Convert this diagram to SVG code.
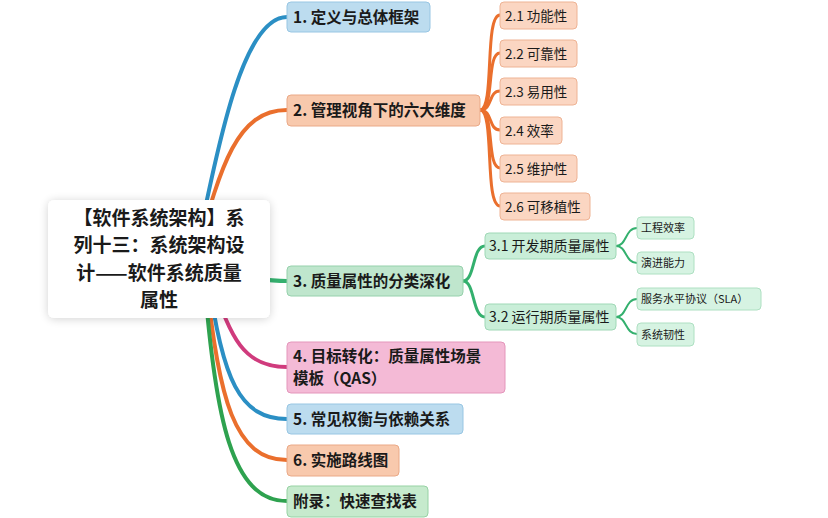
<svg xmlns="http://www.w3.org/2000/svg" width="828" height="518" viewBox="0 0 828 518">
<defs>
<filter id="sh" x="-20%" y="-20%" width="140%" height="140%">
<feGaussianBlur in="SourceAlpha" stdDeviation="5"/>
<feOffset dx="0" dy="1"/>
<feComponentTransfer><feFuncA type="linear" slope="0.18"/></feComponentTransfer>
<feMerge><feMergeNode/><feMergeNode in="SourceGraphic"/></feMerge>
</filter>
</defs>
<style>
text{font-family:"Noto Sans CJK SC","Noto Sans",sans-serif;fill:#1a1a1a}
.root{font-size:19px;font-weight:bold;text-anchor:middle}
.l1{font-size:15.5px;font-weight:bold}
.l2{font-size:13.5px}
.l2g{font-size:14px}
.l3{font-size:11px}
.c{fill:none;stroke-linecap:round}
.blue{stroke:#2b8fc4}
.org{stroke:#ea6f2d}
.grn{stroke:#34b06e}
.grn2{stroke:#2ea24f}
.pink{stroke:#d03b7d}
.w4{stroke-width:4}
.w3{stroke-width:3}
.w2{stroke-width:2}
.nb{fill:#bcdcef;stroke:#98c6e3}
.no{fill:#f8c9ad;stroke:#eaa987}
.no2{fill:#fbd6c2;stroke:#eeb394}
.ng{fill:#bfe6cd;stroke:#96d1ac}
.ng2{fill:#c9eed8;stroke:#9fd8b6}
.ng3{fill:#d6f3e2;stroke:#aee0c2}
.np{fill:#f4bad6;stroke:#e496bb}
.ng7{fill:#c6eacd;stroke:#97d2a4}
</style>
<rect width="828" height="518" fill="#ffffff"/>
<g id="connectors">
<path class="c blue w4" d="M 195 259 C 220 130, 245 17, 287 17"/>
<path class="c org w4" d="M 195 259 C 220 170, 235 110, 287 110"/>
<path class="c grn w4" d="M 200 272 C 240 276, 260 281, 287 281"/>
<path class="c pink w4" d="M 210 275 C 230 340, 245 367, 287 367"/>
<path class="c blue w4" d="M 208 275 C 222 380, 240 419, 287 419"/>
<path class="c org w4" d="M 206 275 C 218 400, 235 460, 287 460"/>
<path class="c grn2 w4" d="M 204 275 C 215 420, 232 501, 287 501"/>
<path class="c org w3" d="M 480 110 C 495 110, 484 15, 500 15"/>
<path class="c org w3" d="M 480 110 C 495 110, 486 53, 500 53"/>
<path class="c org w3" d="M 480 110 C 493 110, 488 91, 500 91"/>
<path class="c org w3" d="M 480 110 C 493 110, 488 130, 500 130"/>
<path class="c org w3" d="M 480 110 C 495 110, 486 168, 500 168"/>
<path class="c org w3" d="M 480 110 C 495 110, 484 206, 500 206"/>
<path class="c grn w3" d="M 463 281 C 475 281, 472 246, 485 246"/>
<path class="c grn w3" d="M 463 281 C 475 281, 472 317, 485 317"/>
<path class="c grn w2" d="M 616 246 C 627 246, 625 228, 637 228"/>
<path class="c grn w2" d="M 616 246 C 627 246, 625 263, 637 263"/>
<path class="c grn w2" d="M 616 317 C 627 317, 625 299, 637 299"/>
<path class="c grn w2" d="M 616 317 C 627 317, 625 334, 637 334"/>
</g>
<g id="root">
<rect x="48" y="200" width="222" height="118" rx="6" fill="#ffffff" filter="url(#sh)"/>
<text class="root" x="159" y="224.5">【软件系统架构】系</text>
<text class="root" x="159" y="252">列十三：系统架构设</text>
<text class="root" x="159" y="279.5">计——软件系统质量</text>
<text class="root" x="159" y="307">属性</text>
</g>
<g id="n1"><rect class="nb" x="287" y="2" width="143" height="30" rx="4"/><text class="l1" x="293" y="22.5">1. 定义与总体框架</text></g>
<g id="n2"><rect class="no" x="287" y="95" width="193" height="31" rx="4"/><text class="l1" x="293" y="116">2. 管理视角下的六大维度</text></g>
<g id="n3"><rect class="ng" x="287" y="266" width="176" height="30" rx="4"/><text class="l1" x="293" y="286.5">3. 质量属性的分类深化</text></g>
<g id="n4"><rect class="np" x="287" y="342" width="218" height="51" rx="4"/><text class="l1" x="293" y="362">4. 目标转化：质量属性场景</text><text class="l1" x="293" y="384">模板（QAS）</text></g>
<g id="n5"><rect class="nb" x="287" y="404" width="176" height="30" rx="4"/><text class="l1" x="293" y="424.5">5. 常见权衡与依赖关系</text></g>
<g id="n6"><rect class="no" x="287" y="445" width="112" height="31" rx="4"/><text class="l1" x="293" y="466">6. 实施路线图</text></g>
<g id="n7"><rect class="ng7" x="287" y="486" width="141" height="31" rx="4"/><text class="l1" x="293" y="507">附录：快速查找表</text></g>
<g id="n2-1"><rect class="no2" x="500" y="2" width="77" height="27" rx="4"/><text class="l2" x="505" y="20.5">2.1 功能性</text></g>
<g id="n2-2"><rect class="no2" x="500" y="40" width="77" height="27" rx="4"/><text class="l2" x="505" y="58.5">2.2 可靠性</text></g>
<g id="n2-3"><rect class="no2" x="500" y="78" width="77" height="27" rx="4"/><text class="l2" x="505" y="96.5">2.3 易用性</text></g>
<g id="n2-4"><rect class="no2" x="500" y="117" width="62" height="27" rx="4"/><text class="l2" x="505" y="135.5">2.4 效率</text></g>
<g id="n2-5"><rect class="no2" x="500" y="155" width="77" height="27" rx="4"/><text class="l2" x="505" y="173.5">2.5 维护性</text></g>
<g id="n2-6"><rect class="no2" x="500" y="193" width="90" height="27" rx="4"/><text class="l2" x="505" y="211.5">2.6 可移植性</text></g>
<g id="n3-1"><rect class="ng2" x="485" y="233" width="131" height="26" rx="4"/><text class="l2g" x="489" y="251">3.1 开发期质量属性</text></g>
<g id="n3-2"><rect class="ng2" x="485" y="304" width="131" height="26" rx="4"/><text class="l2g" x="489" y="322">3.2 运行期质量属性</text></g>
<g id="n3-1-1"><rect class="ng3" x="637" y="217" width="57" height="22" rx="4"/><text class="l3" x="641" y="232">工程效率</text></g>
<g id="n3-1-2"><rect class="ng3" x="637" y="252" width="57" height="22" rx="4"/><text class="l3" x="641" y="267">演进能力</text></g>
<g id="n3-2-1"><rect class="ng3" x="637" y="288" width="124" height="22" rx="4"/><text class="l3" x="641" y="303">服务水平协议（SLA）</text></g>
<g id="n3-2-2"><rect class="ng3" x="637" y="323" width="57" height="23" rx="4"/><text class="l3" x="641" y="338.5">系统韧性</text></g>
</svg>
